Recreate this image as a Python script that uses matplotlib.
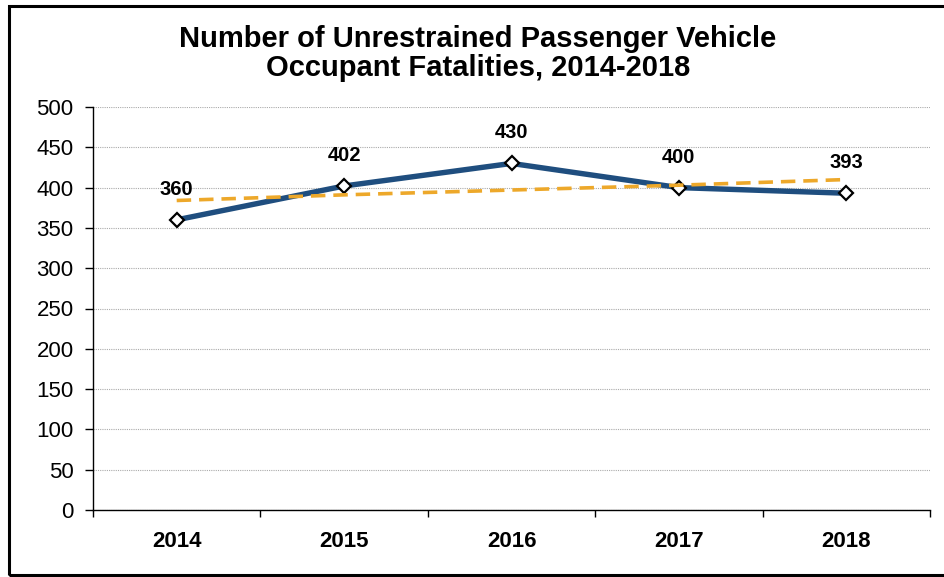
import matplotlib
matplotlib.use("Agg")
import matplotlib.pyplot as plt
from matplotlib.patches import Rectangle

years = ["2014", "2015", "2016", "2017", "2018"]
fatalities = [360, 402, 430, 400, 393]
trend = [384, 391, 397, 403, 410]
y_ticks = [0, 50, 100, 150, 200, 250, 300, 350, 400, 450, 500]

plt.rcParams['font.family'] = ['Liberation Sans', 'DejaVu Sans']

fig = plt.figure(figsize=(9.44, 5.77), dpi=100)
ax = fig.add_axes([93 / 944, 1 - 510 / 577, (930 - 93) / 944, (510 - 107) / 577])

x = list(range(len(years)))
ax.plot(x, fatalities, color='#1F4E7F', lw=3.9, marker='D', markersize=7.5,
        markerfacecolor='white', markeredgecolor='black', markeredgewidth=1.6,
        zorder=3)
ax.plot(x, trend, color='#EDA82A', lw=2.6, dashes=(4, 2.2), zorder=4)

for xi, v in zip(x, fatalities):
    ax.annotate(str(v), (xi, v), xytext=(0, 22), textcoords='offset points',
                ha='center', va='center', fontsize=14.5, fontweight='bold')

ax.set_xlim(-0.5, len(years) - 0.5)
ax.set_ylim(0, 500)
ax.set_yticks(y_ticks)
ax.set_yticklabels([str(t) for t in y_ticks], fontsize=16)
ax.set_xticks(x)
ax.set_xticklabels(years, fontsize=16, fontweight='bold')
ax.tick_params(axis='x', length=0, pad=15)
ax.set_xticks([i - 0.5 for i in range(len(years) + 1)], minor=True)
ax.tick_params(axis='x', which='minor', length=5, direction='out', width=1)
ax.tick_params(axis='y', length=6, direction='out', width=1, pad=8)

ax.grid(axis='y', color='#AAAAAA', linestyle=(0, (1, 1)), linewidth=0.8)
ax.set_axisbelow(True)
for s in ['top', 'right']:
    ax.spines[s].set_visible(False)
ax.spines['left'].set_linewidth(1)
ax.spines['bottom'].set_linewidth(1)

fig.text(0.506, 1 - 47 / 577, "Number of Unrestrained Passenger Vehicle",
         ha='center', va='baseline', fontsize=21, fontweight='bold')
fig.text(0.506, 1 - 76 / 577, "Occupant Fatalities, 2014-2018",
         ha='center', va='baseline', fontsize=21, fontweight='bold')

fig.patches.append(Rectangle((8.5 / 944, 1 - 575 / 577), 1.05, (575 - 6) / 577,
                             transform=fig.transFigure, clip_on=False,
                             fill=False, edgecolor='black', linewidth=2.2))

fig.savefig("out.png", dpi=100)
